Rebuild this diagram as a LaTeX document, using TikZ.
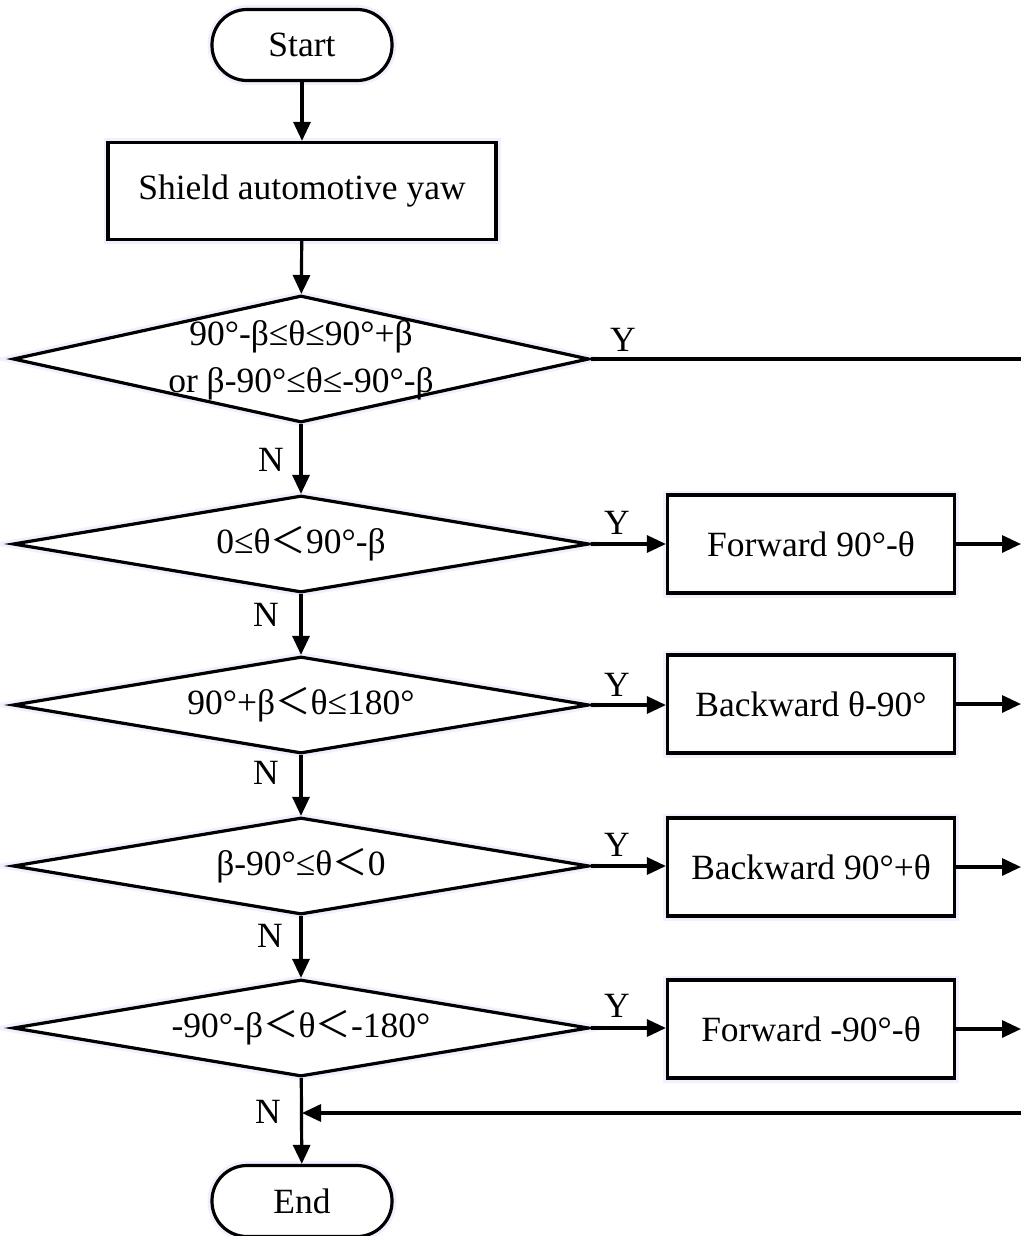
\documentclass[tikz,border=0pt]{standalone}
\usepackage{fontspec}
\setmainfont{Liberation Serif}
\newfontfamily\cjkfw{Noto Sans CJK SC}
\usetikzlibrary{shapes.geometric,arrows.meta}
\newcommand{\fwlt}{{\cjkfw ＜}}
\tikzset{
  txt/.style={font=\fontsize{35.5pt}{47pt}\selectfont, inner sep=0pt, align=center},
  halo/.style={preaction={draw=blue!6, line width=9pt}},
  term/.style={draw, halo, line width=3.2pt, rectangle, rounded corners=35pt,
    minimum width=180pt, minimum height=71pt, txt, fill=white},
  procbox/.style={draw, halo, line width=3.2pt, rectangle,
    minimum width=287pt, minimum height=98pt, txt, fill=white},
  decision/.style={draw, halo, line width=3.2pt, diamond, aspect=4.5,
    minimum width=576pt, inner sep=0pt, fill=white},
  lbl/.style={txt},
  conn/.style={line width=3.2pt},
  arr/.style={conn, -{Triangle[length=19pt,width=17pt]}},
}
\begin{document}
\begin{tikzpicture}[x=1pt,y=-1pt]
\useasboundingbox (0,0) rectangle (1021,1236);

\node[term] (start) at (302,45) {Start};
\node[procbox, minimum width=388pt, minimum height=97pt] (shield) at (302,191) {Shield automotive yaw};

\node[decision, minimum height=127pt] (d1) at (301,359) {};
\node[lbl] (t1) at (301,360) {90°-β≤θ≤90°+β\\or β-90°≤θ≤-90°-β};
\node[decision, minimum height=97pt] (d2) at (301,544) {};
\node[lbl] (t2) at (301,544) {0≤θ\fwlt 90°-β};
\node[decision, minimum height=97pt] (d3) at (301,705) {};
\node[lbl] (t3) at (301,705) {90°+β\fwlt θ≤180°};
\node[decision, minimum height=97pt] (d4) at (301,866) {};
\node[lbl] (t4) at (301,866) {β-90°≤θ\fwlt 0};
\node[decision, minimum height=97pt] (d5) at (301,1028) {};
\node[lbl] (t5) at (301,1028) {-90°-β\fwlt θ\fwlt -180°};

\node[procbox] (b2) at (811,544) {Forward 90°-θ};
\node[procbox] (b3) at (811,704) {Backward θ-90°};
\node[procbox] (b4) at (811,867) {Backward 90°+θ};
\node[procbox] (b5) at (811,1029) {Forward -90°-θ};

\node[term] (end) at (302,1201) {End};

\coordinate (r1) at (1021,359);
\coordinate (r2) at (1021,544);
\coordinate (r3) at (1021,704);
\coordinate (r4) at (1021,867);
\coordinate (r5) at (1021,1029);
\coordinate (r6) at (1021,1113);
\coordinate (j) at (302,1113);

\draw[arr] (start) -- (shield);
\draw[arr] (shield) -- (d1);
\draw[arr] (d1) -- (d2);
\draw[arr] (d2) -- (d3);
\draw[arr] (d3) -- (d4);
\draw[arr] (d4) -- (d5);
\draw[arr] (d5) -- (end);

\draw[conn] (d1.east) -- (r1);
\draw[arr] (d2.east) -- (b2);
\draw[arr] (d3.east) -- (b3.west |- d3.east);
\draw[arr] (d4.east) -- (b4.west |- d4.east);
\draw[arr] (d5.east) -- (b5.west |- d5.east);

\draw[arr] (b2) -- (r2);
\draw[arr] (b3) -- (r3);
\draw[arr] (b4) -- (r4);
\draw[arr] (b5) -- (r5);
\draw[arr] (r6) -- (j);

\node[lbl] (y1) at (623,340) {Y};
\node[lbl] (y2) at (617,523) {Y};
\node[lbl] (y3) at (617,685) {Y};
\node[lbl] (y4) at (617,845) {Y};
\node[lbl] (y5) at (617,1006) {Y};

\node[lbl] (n1) at (271,460) {N};
\node[lbl] (n2) at (266,615) {N};
\node[lbl] (n3) at (266,773) {N};
\node[lbl] (n4) at (270,936) {N};
\node[lbl] (n5) at (268,1112) {N};
\end{tikzpicture}
\end{document}
